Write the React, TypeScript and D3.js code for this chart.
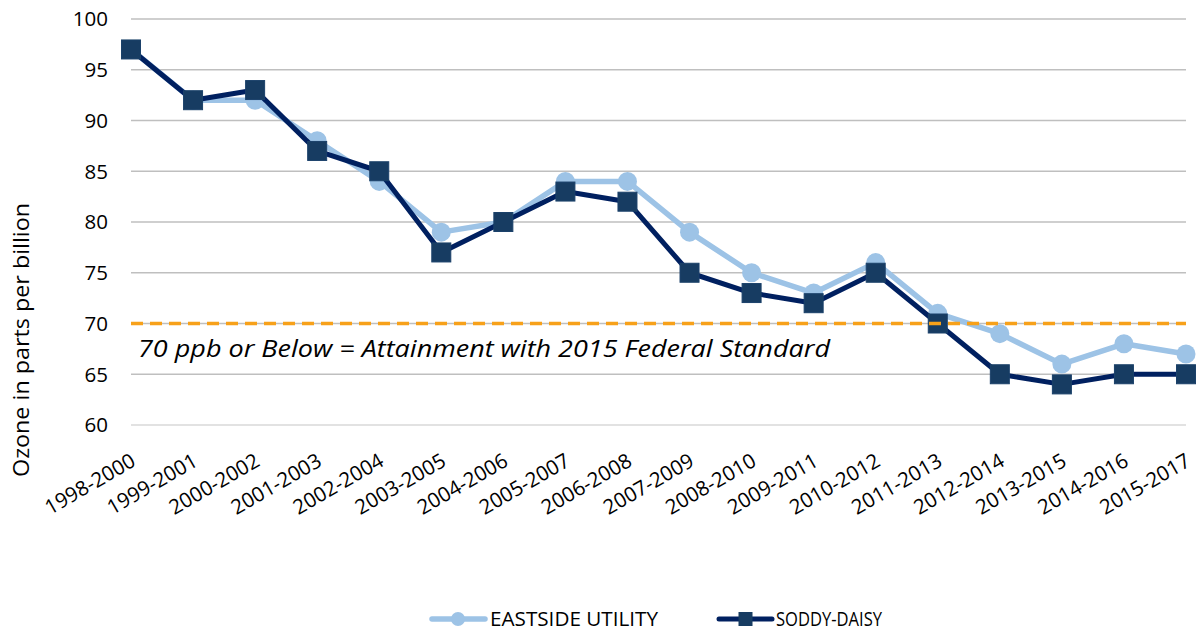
import { useEffect, useRef } from "react";
import * as d3 from "d3";

const PERIODS = [
  "1998-2000", "1999-2001", "2000-2002", "2001-2003", "2002-2004", "2003-2005",
  "2004-2006", "2005-2007", "2006-2008", "2007-2009", "2008-2010", "2009-2011",
  "2010-2012", "2011-2013", "2012-2014", "2013-2015", "2014-2016", "2015-2017",
];

const EASTSIDE = [97, 92, 92, 88, 84, 79, 80, 84, 84, 79, 75, 73, 76, 71, 69, 66, 68, 67];
const SODDY = [97, 92, 93, 87, 85, 77, 80, 83, 82, 75, 73, 72, 75, 70, 65, 64, 65, 65];

const Y_TICKS = [60, 65, 70, 75, 80, 85, 90, 95, 100];
const STANDARD = 70;
const STANDARD_NOTE = "70 ppb or Below = Attainment with 2015 Federal Standard";

const W = 1196;
const H = 631;
const FONT = "'Open Sans', 'Noto Sans', sans-serif";

const LIGHT = "#9dc3e6";
const DARK_LINE = "#002060";
const DARK_MARK = "#173c62";
const ORANGE = "#f7a11a";

function draw(svgEl: SVGSVGElement) {
  const svg = d3.select(svgEl);
  svg.selectAll("*").remove();

  const x = d3.scalePoint<string>().domain(PERIODS).range([131, 1186]);
  const y = d3.scaleLinear().domain([60, 100]).range([425, 19]);

  // grid + y ticks
  Y_TICKS.forEach((v) => {
    svg.append("line")
      .attr("x1", 131).attr("x2", 1186)
      .attr("y1", y(v)).attr("y2", y(v))
      .attr("stroke", v === 60 ? "#d9d9d9" : "#bfbfbf")
      .attr("stroke-width", 1.5);
    svg.append("text")
      .attr("x", 108).attr("y", y(v))
      .attr("dy", "0.36em")
      .attr("text-anchor", "end")
      .attr("font-family", FONT).attr("font-size", 20.5)
      .attr("fill", "#000")
      .text(v);
  });

  // x labels
  PERIODS.forEach((p) => {
    svg.append("text")
      .attr("transform", `translate(${(x(p) ?? 0) + 6},465) rotate(-30)`)
      .attr("text-anchor", "end")
      .attr("font-family", FONT).attr("font-size", 20.5)
      .attr("fill", "#000")
      .text(p);
  });

  // y title
  svg.append("text")
    .attr("transform", "translate(29,340) rotate(-90)")
    .attr("text-anchor", "middle")
    .attr("font-family", FONT).attr("font-size", 22)
    .attr("textLength", 274).attr("lengthAdjust", "spacingAndGlyphs")
    .attr("fill", "#000")
    .text("Ozone in parts per billion");

  // note
  svg.append("text")
    .attr("x", 138).attr("y", 357)
    .attr("font-family", FONT).attr("font-size", 23.5)
    .attr("font-style", "italic")
    .attr("textLength", 692).attr("lengthAdjust", "spacingAndGlyphs")
    .attr("fill", "#000")
    .text(STANDARD_NOTE);

  const line = d3.line<number>()
    .x((_, i) => x(PERIODS[i]) ?? 0)
    .y((d) => y(d));

  // Eastside
  svg.append("path")
    .attr("d", line(EASTSIDE))
    .attr("fill", "none")
    .attr("stroke", LIGHT)
    .attr("stroke-width", 5.5)
    .attr("stroke-linejoin", "round");
  EASTSIDE.forEach((v, i) => {
    svg.append("circle")
      .attr("cx", x(PERIODS[i]) ?? 0).attr("cy", y(v))
      .attr("r", 9.5)
      .attr("fill", LIGHT);
  });

  // Soddy-Daisy
  svg.append("path")
    .attr("d", line(SODDY))
    .attr("fill", "none")
    .attr("stroke", DARK_LINE)
    .attr("stroke-width", 5)
    .attr("stroke-linejoin", "round");
  SODDY.forEach((v, i) => {
    svg.append("rect")
      .attr("x", (x(PERIODS[i]) ?? 0) - 9.5).attr("y", y(v) - 9.5)
      .attr("width", 19).attr("height", 19)
      .attr("fill", DARK_MARK)
      .attr("stroke", "#1b416a").attr("stroke-width", 1);
  });

  // standard line (on top)
  svg.append("line")
    .attr("x1", 131).attr("x2", 1186)
    .attr("y1", y(STANDARD)).attr("y2", y(STANDARD))
    .attr("stroke", ORANGE)
    .attr("stroke-width", 3.5)
    .attr("stroke-dasharray", "12,7");

  // legend
  const ly = 619;
  const lg = svg.append("g");
  lg.append("line")
    .attr("x1", 432).attr("x2", 485).attr("y1", ly).attr("y2", ly)
    .attr("stroke", LIGHT).attr("stroke-width", 5.5).attr("stroke-linecap", "round");
  lg.append("circle").attr("cx", 458).attr("cy", ly).attr("r", 7).attr("fill", LIGHT);
  lg.append("text")
    .attr("x", 490).attr("y", ly).attr("dy", "0.36em")
    .attr("font-family", FONT).attr("font-size", 20)
    .attr("textLength", 168).attr("lengthAdjust", "spacingAndGlyphs")
    .attr("fill", "#000")
    .text("EASTSIDE UTILITY");

  lg.append("line")
    .attr("x1", 719).attr("x2", 772).attr("y1", ly).attr("y2", ly)
    .attr("stroke", DARK_LINE).attr("stroke-width", 5).attr("stroke-linecap", "round");
  lg.append("rect")
    .attr("x", 738.5).attr("y", ly - 7).attr("width", 14).attr("height", 14)
    .attr("fill", DARK_MARK);
  lg.append("text")
    .attr("x", 776).attr("y", ly).attr("dy", "0.36em")
    .attr("font-family", FONT).attr("font-size", 20)
    .attr("textLength", 106).attr("lengthAdjust", "spacingAndGlyphs")
    .attr("fill", "#000")
    .text("SODDY-DAISY");
}

export default function App() {
  const ref = useRef<SVGSVGElement>(null);

  useEffect(() => {
    if (ref.current) draw(ref.current);
  }, []);

  return (
    <svg
      ref={ref}
      width={W}
      height={H}
      style={{ position: "absolute", left: 0, top: 0, background: "#fff" }}
    />
  );
}
